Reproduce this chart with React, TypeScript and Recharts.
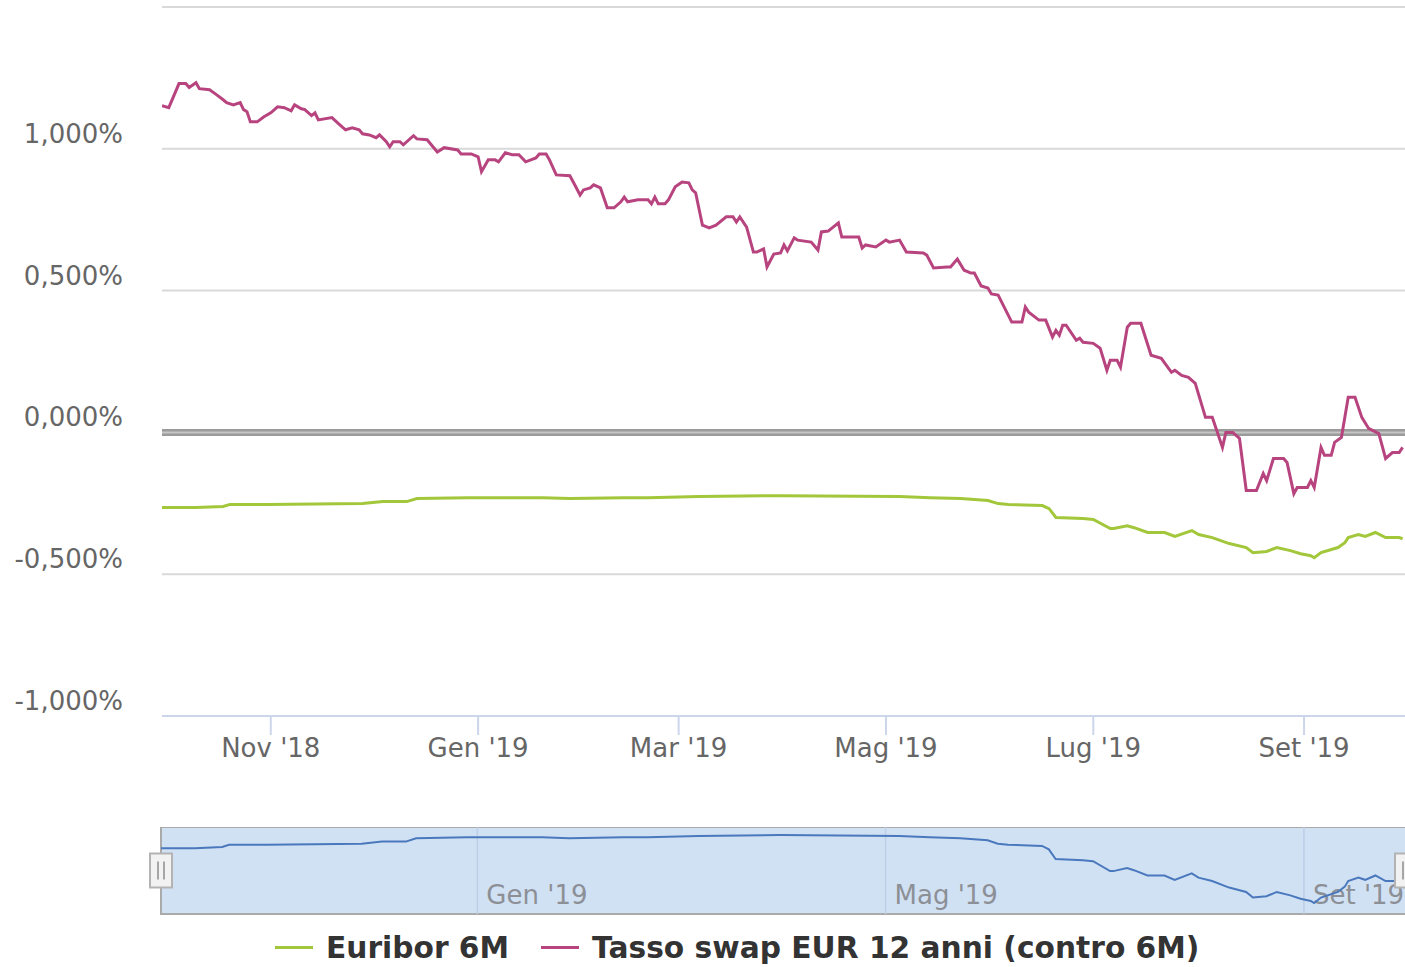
import React from "react";
import {
  LineChart,
  Line,
  XAxis,
  YAxis,
  CartesianGrid,
  ReferenceLine,
  ReferenceArea,
  ReferenceDot,
  Legend,
} from "recharts";

const FONT = "'DejaVu Sans', Verdana, sans-serif";
const GREEN = "#a2c73b";
const MAGENTA = "#b8447f";
const NAV_LINE = "#4a78bd";

// Euribor 6M (%)
const euriborDates = [
  "2018-09-30", "2018-10-10", "2018-10-18", "2018-10-20", "2018-10-31", "2018-11-28",
  "2018-12-04", "2018-12-11", "2018-12-14", "2018-12-29", "2019-01-07", "2019-01-20",
  "2019-01-28", "2019-02-13", "2019-02-20", "2019-03-07", "2019-03-31", "2019-05-05",
  "2019-05-14", "2019-05-23", "2019-05-31", "2019-06-03", "2019-06-06", "2019-06-16",
  "2019-06-18", "2019-06-20", "2019-06-28", "2019-07-01", "2019-07-06", "2019-07-07",
  "2019-07-11", "2019-07-13", "2019-07-17", "2019-07-22", "2019-07-25", "2019-07-30",
  "2019-08-01", "2019-08-05", "2019-08-10", "2019-08-15", "2019-08-17", "2019-08-21",
  "2019-08-24", "2019-08-28", "2019-08-31", "2019-09-03", "2019-09-04", "2019-09-06",
  "2019-09-11", "2019-09-13", "2019-09-14", "2019-09-17", "2019-09-19", "2019-09-22",
  "2019-09-25", "2019-09-29", "2019-09-30",
];
const euriborValues = [
  -0.265, -0.265, -0.261, -0.254, -0.254, -0.251,
  -0.244, -0.244, -0.233, -0.23, -0.23, -0.23,
  -0.233, -0.23, -0.23, -0.226, -0.223, -0.226,
  -0.23, -0.233, -0.24, -0.251, -0.254, -0.258,
  -0.269, -0.3, -0.304, -0.307, -0.339, -0.339,
  -0.329, -0.336, -0.353, -0.353, -0.367, -0.346,
  -0.36, -0.371, -0.392, -0.406, -0.424, -0.42,
  -0.406, -0.417, -0.428, -0.435, -0.442, -0.424,
  -0.406, -0.389, -0.371, -0.36, -0.367, -0.353,
  -0.371, -0.371, -0.375,
];

// Tasso swap EUR 12 anni (contro 6M) (%)
const swapDates = [
  "2018-09-30", "2018-10-02", "2018-10-05", "2018-10-07", "2018-10-08", "2018-10-10",
  "2018-10-11", "2018-10-14", "2018-10-16", "2018-10-18", "2018-10-19", "2018-10-21",
  "2018-10-23", "2018-10-24", "2018-10-25", "2018-10-26", "2018-10-28", "2018-10-30",
  "2018-11-01", "2018-11-03", "2018-11-05", "2018-11-07", "2018-11-08", "2018-11-10",
  "2018-11-11", "2018-11-13", "2018-11-14", "2018-11-15", "2018-11-19", "2018-11-21",
  "2018-11-23", "2018-11-25", "2018-11-27", "2018-11-28", "2018-11-30", "2018-12-02",
  "2018-12-03", "2018-12-05", "2018-12-06", "2018-12-07", "2018-12-09", "2018-12-10",
  "2018-12-13", "2018-12-14", "2018-12-17", "2018-12-20", "2018-12-22", "2018-12-26",
  "2018-12-27", "2018-12-30", "2019-01-01", "2019-01-02", "2019-01-04", "2019-01-06",
  "2019-01-07", "2019-01-09", "2019-01-11", "2019-01-13", "2019-01-15", "2019-01-18",
  "2019-01-19", "2019-01-21", "2019-01-22", "2019-01-24", "2019-01-28", "2019-01-29",
  "2019-01-31", "2019-02-01", "2019-02-03", "2019-02-04", "2019-02-06", "2019-02-08",
  "2019-02-10", "2019-02-12", "2019-02-13", "2019-02-14", "2019-02-17", "2019-02-20",
  "2019-02-21", "2019-02-22", "2019-02-23", "2019-02-25", "2019-02-26", "2019-02-28",
  "2019-03-02", "2019-03-04", "2019-03-05", "2019-03-06", "2019-03-08", "2019-03-10",
  "2019-03-12", "2019-03-15", "2019-03-17", "2019-03-18", "2019-03-19", "2019-03-21",
  "2019-03-23", "2019-03-24", "2019-03-26", "2019-03-27", "2019-03-29", "2019-03-31",
  "2019-04-01", "2019-04-02", "2019-04-04", "2019-04-05", "2019-04-09", "2019-04-11",
  "2019-04-12", "2019-04-14", "2019-04-17", "2019-04-18", "2019-04-23", "2019-04-24",
  "2019-04-25", "2019-04-28", "2019-05-01", "2019-05-02", "2019-05-05", "2019-05-07",
  "2019-05-12", "2019-05-13", "2019-05-15", "2019-05-19", "2019-05-20", "2019-05-22",
  "2019-05-24", "2019-05-26", "2019-05-27", "2019-05-29", "2019-05-31", "2019-06-01",
  "2019-06-03", "2019-06-07", "2019-06-10", "2019-06-11", "2019-06-12", "2019-06-15",
  "2019-06-17", "2019-06-19", "2019-06-20", "2019-06-21", "2019-06-22", "2019-06-23",
  "2019-06-26", "2019-06-27", "2019-06-28", "2019-07-01", "2019-07-03", "2019-07-05",
  "2019-07-06", "2019-07-08", "2019-07-09", "2019-07-11", "2019-07-12", "2019-07-15",
  "2019-07-18", "2019-07-21", "2019-07-24", "2019-07-25", "2019-07-27", "2019-07-29",
  "2019-07-31", "2019-08-03", "2019-08-05", "2019-08-06", "2019-08-08", "2019-08-09",
  "2019-08-11", "2019-08-13", "2019-08-15", "2019-08-18", "2019-08-20", "2019-08-21",
  "2019-08-23", "2019-08-26", "2019-08-27", "2019-08-29", "2019-08-30", "2019-09-02",
  "2019-09-03", "2019-09-04", "2019-09-06", "2019-09-07", "2019-09-09", "2019-09-10",
  "2019-09-12", "2019-09-14", "2019-09-16", "2019-09-18", "2019-09-20", "2019-09-23",
  "2019-09-25", "2019-09-27", "2019-09-29", "2019-09-30",
];
const swapValues = [
  1.152, 1.145, 1.23, 1.23, 1.216, 1.233,
  1.212, 1.208, 1.191, 1.173, 1.163, 1.155,
  1.163, 1.138, 1.131, 1.095, 1.095, 1.113,
  1.127, 1.148, 1.145, 1.134, 1.155, 1.141,
  1.138, 1.117, 1.127, 1.102, 1.11, 1.088,
  1.067, 1.074, 1.067, 1.053, 1.049, 1.039,
  1.049, 1.025, 1.007, 1.025, 1.025, 1.014,
  1.046, 1.035, 1.032, 0.989, 1.004, 0.996,
  0.982, 0.982, 0.972, 0.919, 0.961, 0.961,
  0.954, 0.986, 0.979, 0.979, 0.954, 0.968,
  0.982, 0.982, 0.961, 0.908, 0.905, 0.883,
  0.837, 0.855, 0.862, 0.873, 0.862, 0.792,
  0.792, 0.813, 0.83, 0.813, 0.82, 0.82,
  0.806, 0.83, 0.806, 0.806, 0.82, 0.866,
  0.883, 0.88, 0.855, 0.845, 0.731, 0.721,
  0.731, 0.76, 0.76, 0.742, 0.76, 0.724,
  0.636, 0.636, 0.647, 0.583, 0.629, 0.633,
  0.661, 0.64, 0.686, 0.678, 0.671, 0.643,
  0.707, 0.71, 0.739, 0.689, 0.689, 0.65,
  0.661, 0.654, 0.678, 0.671, 0.678, 0.636,
  0.633, 0.625, 0.58, 0.583, 0.583, 0.611,
  0.572, 0.562, 0.562, 0.516, 0.509, 0.488,
  0.484, 0.389, 0.389, 0.442, 0.424, 0.396,
  0.396, 0.336, 0.36, 0.343, 0.378, 0.378,
  0.325, 0.332, 0.318, 0.314, 0.297, 0.219,
  0.254, 0.254, 0.23, 0.371, 0.385, 0.385,
  0.272, 0.261, 0.212, 0.219, 0.201, 0.194,
  0.173, 0.053, 0.053, 0.018, -0.053, 0.0,
  0.0, -0.021, -0.205, -0.205, -0.145, -0.17,
  -0.092, -0.092, -0.106, -0.216, -0.194, -0.194,
  -0.17, -0.194, -0.053, -0.081, -0.081, -0.035,
  -0.018, 0.124, 0.124, 0.053, 0.014, -0.004,
  -0.092, -0.071, -0.071, -0.053,
];

// axis ticks
const mainTickDates = ["2018-11-01", "2019-01-01", "2019-03-01", "2019-05-01", "2019-07-01", "2019-09-01"];
const mainTickLabels = ["Nov '18", "Gen '19", "Mar '19", "Mag '19", "Lug '19", "Set '19"];
const navTickDates = ["2019-01-01", "2019-05-01", "2019-09-01"];
const navTickLabels = ["Gen '19", "Mag '19", "Set '19"];
const yTicks = [-1, -0.5, 0, 0.5, 1, 1.5];

const seriesNames = ["Euribor 6M", "Tasso swap EUR 12 anni (contro 6M)"];
const seriesColors = [GREEN, MAGENTA];

const toPoints = (dates: string[], values: number[]) =>
  dates.map((d, i) => ({ t: Date.parse(d), v: values[i] }));

const euriborPts = toPoints(euriborDates, euriborValues);
const swapPts = toPoints(swapDates, swapValues);

const xDomain = [Date.parse("2018-09-30"), Date.parse("2019-10-01")];
const navDomain = [-0.477, -0.197];

const mainTicks = mainTickDates.map((d) => Date.parse(d));
const navTicks = navTickDates.map((d) => Date.parse(d));

const labelFor = (t: number, ticks: number[], labels: string[]) => {
  const i = ticks.indexOf(t);
  return i >= 0 ? labels[i] : "";
};

const formatPct = (v: number) => v.toFixed(3).replace(".", ",") + "%";

const YTick = (props: any) => {
  const { x, y, payload } = props;
  if (payload.value === 1.5) return <g />;
  return (
    <text x={x} y={y - 6} textAnchor="end" fill="#666" fontSize={26} fontFamily={FONT}>
      {formatPct(payload.value)}
    </text>
  );
};

const XTick = (props: any) => {
  const { x, y, payload } = props;
  return (
    <text x={x} y={y + 22} textAnchor="middle" fill="#666" fontSize={26} fontFamily={FONT}>
      {labelFor(payload.value, mainTicks, mainTickLabels)}
    </text>
  );
};

// label drawn inside the navigator, right of its grid line
const NavLabel = (text: string) => (props: any) => {
  const vb = props.viewBox || {};
  return (
    <text
      x={vb.x + 9}
      y={vb.y + vb.height - 10}
      textAnchor="start"
      fill="#8c9096"
      fontSize={26}
      fontFamily={FONT}
    >
      {text}
    </text>
  );
};

const Handle = (props: any) => {
  const { cx, cy } = props;
  return (
    <g>
      <rect x={cx - 11} y={cy - 17} width={22} height={34} fill="#f2f2f2" stroke="#b3b3b3" strokeWidth={2} />
      <line x1={cx - 3} x2={cx - 3} y1={cy - 9} y2={cy + 9} stroke="#a6a6a6" strokeWidth={2} />
      <line x1={cx + 3} x2={cx + 3} y1={cy - 9} y2={cy + 9} stroke="#a6a6a6" strokeWidth={2} />
    </g>
  );
};

const LegendContent = () => (
  <div
    style={{
      display: "flex",
      alignItems: "center",
      height: 53,
      paddingTop: 14,
      paddingLeft: 275,
      boxSizing: "border-box",
      fontFamily: FONT,
      fontWeight: "bold",
      fontSize: 29.7,
      color: "#333",
      whiteSpace: "nowrap",
    }}
  >
    {seriesNames.map((name, i) => (
      <div key={name} style={{ display: "flex", alignItems: "center", marginRight: 32 }}>
        <div style={{ width: 38, height: 3, background: seriesColors[i], marginRight: 13 }} />
        <span>{name}</span>
      </div>
    ))}
  </div>
);

const App = () => {
  return (
    <div
      style={{
        position: "fixed",
        left: 0,
        top: 0,
        width: 1405,
        height: 967,
        overflow: "hidden",
        background: "#fff",
      }}
    >
      <div style={{ position: "absolute", left: 0, top: 0 }}>
        <LineChart width={1416} height={800} margin={{ top: 7, right: 10, left: 0, bottom: 0 }}>
          <CartesianGrid vertical={false} stroke="#d9d9d9" strokeWidth={2} />
          <XAxis
            dataKey="t"
            type="number"
            domain={xDomain}
            ticks={mainTicks}
            allowDataOverflow
            height={84}
            axisLine={{ stroke: "#ccd6eb", strokeWidth: 2 }}
            tickLine={{ stroke: "#ccd6eb", strokeWidth: 2 }}
            tickSize={19}
            tickMargin={0}
            tick={<XTick />}
          />
          <YAxis
            type="number"
            domain={[-1, 1.5]}
            ticks={yTicks}
            width={162}
            axisLine={false}
            tickLine={false}
            tickSize={0}
            tickMargin={39}
            tick={<YTick />}
          />
          <ReferenceLine y={0} stroke="#9b9b9b" strokeWidth={7} />
          <ReferenceLine y={0} stroke="#c6c6c6" strokeWidth={2} />
          <Line
            data={euriborPts}
            dataKey="v"
            name={seriesNames[0]}
            type="linear"
            stroke={GREEN}
            strokeWidth={3}
            dot={false}
            activeDot={false}
            isAnimationActive={false}
          />
          <Line
            data={swapPts}
            dataKey="v"
            name={seriesNames[1]}
            type="linear"
            stroke={MAGENTA}
            strokeWidth={3}
            dot={false}
            activeDot={false}
            isAnimationActive={false}
          />
        </LineChart>
      </div>
      <div style={{ position: "absolute", left: 0, top: 827 }}>
        <LineChart width={1416} height={140} margin={{ top: 0, right: 10, left: 161, bottom: 0 }}>
          <XAxis dataKey="t" type="number" domain={xDomain} allowDataOverflow hide />
          <YAxis type="number" domain={navDomain} hide allowDataOverflow />
          <ReferenceArea
            x1={xDomain[0]}
            x2={xDomain[1]}
            y1={navDomain[0]}
            y2={navDomain[1]}
            fill="#d1e1f4"
            fillOpacity={1}
            stroke="#aaaaaa"
            strokeWidth={2}
            ifOverflow="visible"
          />
          {navTicks.map((t, i) => (
            <ReferenceLine
              key={t}
              x={t}
              stroke="#bccfe6"
              strokeWidth={1.5}
              label={NavLabel(navTickLabels[i])}
            />
          ))}
          <Line
            data={euriborPts}
            dataKey="v"
            type="linear"
            stroke={NAV_LINE}
            strokeWidth={2}
            dot={false}
            activeDot={false}
            isAnimationActive={false}
          />
          <ReferenceDot x={xDomain[0]} y={(navDomain[0] + navDomain[1]) / 2} ifOverflow="visible" shape={<Handle />} />
          <ReferenceDot x={xDomain[1]} y={(navDomain[0] + navDomain[1]) / 2} ifOverflow="visible" shape={<Handle />} />
          <Legend
            verticalAlign="bottom"
            height={53}
            wrapperStyle={{ left: 0, width: 1416 }}
            content={() => <LegendContent />}
          />
        </LineChart>
      </div>
    </div>
  );
};

export default App;
